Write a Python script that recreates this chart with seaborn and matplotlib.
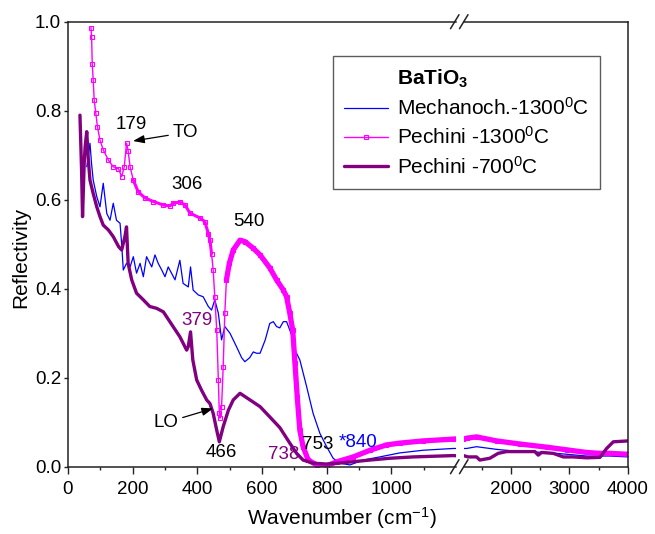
import pandas as pd
import matplotlib.pyplot as plt
import seaborn as sns
from matplotlib.lines import Line2D


# --- Data ---
mech_x = [58, 63, 68, 73, 78, 89, 99, 109, 120, 130, 140, 150, 161, 166, 171, 181, 192, 202,
          212, 223, 233, 243, 259, 269, 279, 290, 300, 310, 315, 331, 346, 356, 372, 379, 387,
          403, 418, 434, 444, 454, 465, 475, 485, 501, 521, 537, 547, 562, 573, 583, 594, 610,
          624, 635, 645, 655, 666, 676, 686, 697, 702, 717, 738, 758, 779, 800, 820, 841, 872,
          913, 964, 1026, 1098, 1191, 1243, 1414, 1756, 2154, 2610, 2952, 3294, 3692, 4000]
mech_y = [0.674, 0.700, 0.727, 0.680, 0.644, 0.607, 0.584, 0.637, 0.569, 0.554, 0.592, 0.554,
          0.547, 0.500, 0.442, 0.457, 0.449, 0.472, 0.435, 0.457, 0.427, 0.472, 0.449, 0.476,
          0.457, 0.442, 0.427, 0.449, 0.442, 0.420, 0.464, 0.412, 0.404, 0.449, 0.397, 0.386,
          0.382, 0.360, 0.352, 0.375, 0.345, 0.285, 0.315, 0.300, 0.270, 0.245, 0.236, 0.245,
          0.258, 0.255, 0.255, 0.285, 0.322, 0.326, 0.315, 0.312, 0.326, 0.326, 0.307, 0.285,
          0.262, 0.240, 0.180, 0.120, 0.075, 0.045, 0.019, 0.008, 0.004, 0.015, 0.022, 0.031,
          0.037, 0.041, 0.041, 0.045, 0.039, 0.034, 0.032, 0.028, 0.024, 0.024, 0.022]

pech1300_x = [71, 73, 75, 78, 81, 86, 91, 99, 109, 125, 140, 156, 166, 174, 181, 186, 192, 202,
              217, 238, 264, 295, 315, 326, 346, 362, 377, 408, 423, 434, 439, 444, 449, 454,
              460, 465, 468, 470, 475, 480, 485, 490, 499, 511, 532, 547, 573, 594, 624, 645,
              666, 676, 686, 695, 702, 709, 717, 727, 743, 769, 800, 831, 882, 934, 985, 1026,
              1098, 1191, 1243, 1414, 1756, 2154, 2610, 2952, 3294, 3521, 3692, 4000]
pech1300_y = [0.987, 0.966, 0.906, 0.869, 0.824, 0.795, 0.764, 0.734, 0.712, 0.689, 0.674,
              0.670, 0.652, 0.674, 0.727, 0.710, 0.674, 0.644, 0.618, 0.604, 0.596, 0.588,
              0.586, 0.592, 0.595, 0.588, 0.570, 0.559, 0.551, 0.524, 0.509, 0.479, 0.442,
              0.382, 0.307, 0.195, 0.120, 0.109, 0.135, 0.225, 0.345, 0.420, 0.457, 0.487,
              0.509, 0.506, 0.491, 0.476, 0.447, 0.420, 0.397, 0.382, 0.345, 0.307, 0.232,
              0.157, 0.082, 0.045, 0.015, 0.004, 0.002, 0.011, 0.022, 0.037, 0.049, 0.053,
              0.058, 0.062, 0.064, 0.067, 0.058, 0.051, 0.044, 0.038, 0.032, 0.030, 0.030,
              0.028]

pech700_x = [37, 42, 45, 50, 53, 58, 63, 68, 78, 89, 99, 109, 125, 140, 157, 166, 176, 181,
             186, 197, 212, 233, 253, 274, 295, 305, 325, 346, 367, 372, 379, 386, 398, 413,
             429, 439, 449, 460, 468, 480, 496, 511, 532, 563, 594, 624, 655, 686, 707, 727,
             758, 800, 851, 934, 995, 1067, 1191, 1270, 1414, 1470, 1641, 1783, 1926, 2268,
             2410, 2467, 2525, 2724, 2895, 3066, 3294, 3521, 3635, 3749, 4000]
pech700_y = [0.790, 0.667, 0.562, 0.680, 0.719, 0.753, 0.689, 0.644, 0.614, 0.584, 0.562,
             0.543, 0.532, 0.517, 0.494, 0.487, 0.517, 0.539, 0.457, 0.420, 0.390, 0.375,
             0.360, 0.356, 0.348, 0.337, 0.315, 0.292, 0.262, 0.270, 0.303, 0.240, 0.195,
             0.172, 0.150, 0.142, 0.120, 0.082, 0.056, 0.090, 0.127, 0.150, 0.165, 0.150,
             0.135, 0.112, 0.088, 0.053, 0.030, 0.015, 0.008, 0.006, 0.009, 0.015, 0.019,
             0.022, 0.025, 0.022, 0.022, 0.015, 0.019, 0.030, 0.034, 0.034, 0.034, 0.026,
             0.032, 0.030, 0.022, 0.022, 0.020, 0.021, 0.041, 0.056, 0.058]

mech = pd.DataFrame({"x": mech_x, "y": mech_y})
p1300 = pd.DataFrame({"x": pech1300_x, "y": pech1300_y})
p700 = pd.DataFrame({"x": pech700_x, "y": pech700_y})

# parts of the Pechini-1300 curve where the markers pile up into a solid band
p1300_mid = p1300[(p1300["x"] >= 195) & (p1300["x"] <= 444)]
p1300_hi = p1300[p1300["x"] >= 490]


# --- Plot styling ---
sns.set_style("ticks")
plt.rcParams["font.family"] = ["Liberation Sans", "DejaVu Sans"]
plt.rcParams["mathtext.fontset"] = "custom"
plt.rcParams["mathtext.rm"] = "Liberation Sans"
plt.rcParams["mathtext.bf"] = "Liberation Sans:bold"
plt.rcParams["mathtext.it"] = "Liberation Sans:italic"
plt.rcParams["mathtext.default"] = "regular"
plt.rcParams["text.color"] = "black"

BLUE = "#0000FF"
MAGENTA = "#FF00FF"
PURPLE = "#800080"

fig = plt.figure(figsize=(6.55, 5.34), dpi=100)
ax1 = fig.add_axes([0.1038, 0.126, 0.5924, 0.8333])
ax2 = fig.add_axes([0.7084, 0.126, 0.2504, 0.8333], sharey=ax1)


# --- Plot data on both halves of the broken axis ---
for ax in (ax1, ax2):
    sns.lineplot(data=mech, x="x", y="y", ax=ax, estimator=None, color=BLUE,
                 linewidth=0.9, label="Mechanoch.-1300$^0$C")
    sns.lineplot(data=p1300_mid, x="x", y="y", ax=ax, estimator=None,
                 color=MAGENTA, linewidth=2.2)
    sns.lineplot(data=p1300_hi, x="x", y="y", ax=ax, estimator=None,
                 color=MAGENTA, linewidth=3.8)
    sns.lineplot(data=p1300, x="x", y="y", ax=ax, estimator=None, color=MAGENTA,
                 linewidth=1.0, marker="s", markersize=3.5, markerfacecolor="none",
                 markeredgecolor=MAGENTA, markeredgewidth=0.8,
                 label="Pechini -1300$^0$C")
    sns.lineplot(data=p700, x="x", y="y", ax=ax, estimator=None, color=PURPLE,
                 linewidth=2.4, label="Pechini -700$^0$C")
    ax.get_legend().remove()
    ax.set_xlabel("")
    ax.set_ylabel("")


# --- Axes configuration ---
ax1.set_xlim(0, 1200)
ax2.set_xlim(1200, 4000)
ax1.set_ylim(0, 1.0)
ax1.set_xticks([0, 200, 400, 600, 800, 1000])
ax1.set_xticks(range(100, 1200, 200), minor=True)
ax2.set_xticks([2000, 3000, 4000])
ax2.set_xticks([1500, 2500, 3500], minor=True)
ax1.set_yticks([0.0, 0.2, 0.4, 0.6, 0.8, 1.0])
ax1.set_yticklabels(["0.0", "0.2", "0.4", "0.6", "0.8", "1.0"])

for ax in (ax1, ax2):
    for spine in ax.spines.values():
        spine.set_color("#222222")
        spine.set_linewidth(1.1)
    ax.tick_params(axis="x", which="major", direction="out", length=5, width=1,
                   labelsize=13.5, pad=5, top=False, colors="#222222",
                   labelcolor="black")
    ax.tick_params(axis="x", which="minor", direction="out", length=2.5, width=1,
                   top=False, colors="#222222")
ax1.tick_params(axis="y", direction="out", length=3, width=1, labelsize=13.5, pad=2,
                right=False, colors="#222222", labelcolor="black")
ax1.spines["right"].set_visible(False)
ax2.spines["left"].set_visible(False)
ax2.tick_params(axis="y", left=False, right=False, labelleft=False)

fig.text(0.522, 0.03, "Wavenumber (cm$^{-1}$)", fontsize=15, ha="center", va="center")
fig.text(0.031, 0.517, "Reflectivity", fontsize=15, rotation=90, ha="center", va="center")

# break marks "//" on the top and bottom frame lines
for py in (466.7, 21.7):
    for px0 in (450.5, 459.5):
        fig.add_artist(Line2D([px0 / 655, (px0 + 8.5) / 655],
                              [(534 - py - 7) / 534, (534 - py + 7) / 534],
                              color="#222222", linewidth=1.1))


# --- Annotations ---
ann = dict(fontsize=13.5, ha="center", va="center")
ax1.text(197, 0.768, "179", **ann)
ax1.text(369, 0.635, "306", **ann)
ax1.text(560, 0.551, "540", **ann)
ax1.text(400, 0.328, "379", color=PURPLE, **ann)
ax1.text(475, 0.032, "466", **ann)
ax1.text(668, 0.028, "738", color=PURPLE, **ann)
ax1.text(771, 0.051, "753", **ann)
ax1.text(897, 0.054, "*840", color=BLUE, **ann)
ax1.annotate("TO", xy=(201, 0.732), xytext=(364, 0.751), fontsize=13.5,
             ha="center", va="center",
             arrowprops=dict(arrowstyle="-|>,head_length=0.5,head_width=0.18",
                             color="black", lw=0.9, shrinkA=1, shrinkB=0))
ax1.annotate("LO", xy=(449, 0.131), xytext=(302, 0.099), fontsize=13.5,
             ha="center", va="center",
             arrowprops=dict(arrowstyle="-|>,head_length=0.5,head_width=0.18",
                             color="black", lw=0.9, shrinkA=1, shrinkB=0))


# --- Legend ---
handles, labels = ax1.get_legend_handles_labels()
title_handle = Line2D([], [], linestyle="none")
leg = fig.legend([title_handle] + handles, [r"$\mathbf{BaTiO_3}$"] + labels,
                 loc="upper left", bbox_to_anchor=(333 / 655, (534 - 56) / 534),
                 bbox_transform=fig.transFigure, borderaxespad=0, frameon=True,
                 fancybox=False, edgecolor="#333333", fontsize=15, handlelength=2.1,
                 handletextpad=0.4, borderpad=0.55, labelspacing=0.35)
leg.get_frame().set_linewidth(1.0)


# --- Render ---
fig.savefig("out.png", dpi=100)
